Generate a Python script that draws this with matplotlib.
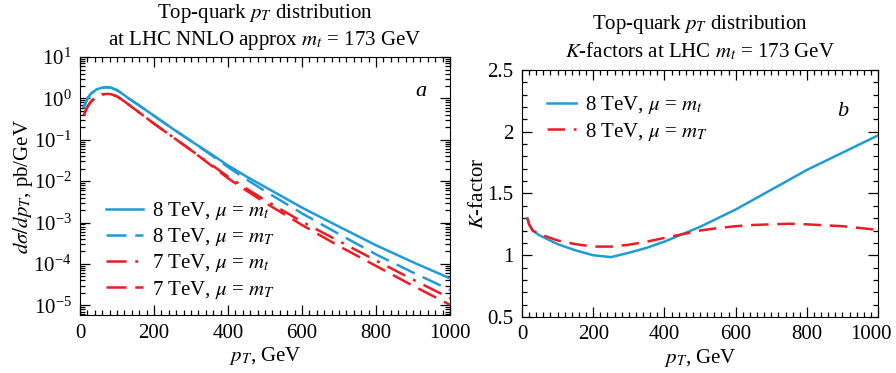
import numpy as np
import matplotlib
matplotlib.use("Agg")
import matplotlib.pyplot as plt
import matplotlib.transforms as mtransforms
from matplotlib.ticker import MultipleLocator, FixedLocator, NullFormatter, LogFormatterSciNotation

plt.rcParams['font.family'] = ['Liberation Serif', 'DejaVu Serif']
plt.rcParams['mathtext.fontset'] = 'stix'
plt.rcParams['font.size'] = 15

BLUE = '#1f9bd7'
RED = '#ec1c24'

# panel a: log10 of dsigma/dpT (pb/GeV)
pt_a = [10, 20, 30, 45, 60, 75, 85, 100, 115, 130, 145, 160, 200, 250, 300, 350,
        400, 450, 500, 600, 700, 800, 900, 1000]
log_8_mt = [-0.21, 0.0, 0.12, 0.22, 0.26, 0.27, 0.255, 0.20, 0.11, 0.01, -0.08, -0.17,
            -0.42, -0.73, -1.03, -1.32, -1.62, -1.89, -2.14, -2.64, -3.10, -3.55,
            -3.96, -4.35]
log_8_mT = [-0.21, 0.0, 0.12, 0.22, 0.26, 0.27, 0.255, 0.20, 0.11, 0.01, -0.08, -0.17,
            -0.42, -0.73, -1.03, -1.34, -1.66, -1.96, -2.24, -2.78, -3.28, -3.77,
            -4.21, -4.63]
log_7_mt = [-0.41, -0.20, -0.07, 0.04, 0.10, 0.11, 0.10, 0.05, -0.04, -0.14, -0.24,
            -0.34, -0.61, -0.93, -1.25, -1.57, -1.89, -2.18, -2.46, -2.98, -3.45,
            -3.92, -4.38, -4.83]
log_7_mT = [-0.41, -0.20, -0.07, 0.04, 0.10, 0.11, 0.10, 0.05, -0.04, -0.14, -0.24,
            -0.34, -0.61, -0.93, -1.25, -1.59, -1.93, -2.23, -2.52, -3.06, -3.57,
            -4.05, -4.53, -4.99]

# panel b: K-factors, 8 TeV
pt_b = [15, 20, 30, 50, 100, 150, 200, 250, 300, 350, 400, 450, 500, 550, 600,
        650, 700, 750, 800, 900, 1000]
k_mt = [1.30, 1.25, 1.20, 1.16, 1.09, 1.04, 1.00, 0.985, 1.02, 1.06, 1.11, 1.17,
        1.23, 1.30, 1.37, 1.45, 1.53, 1.61, 1.69, 1.83, 1.97]
k_mT = [1.30, 1.25, 1.20, 1.17, 1.12, 1.09, 1.07, 1.07, 1.085, 1.11, 1.14, 1.17,
        1.20, 1.22, 1.235, 1.245, 1.25, 1.255, 1.25, 1.235, 1.205]

fig = plt.figure(figsize=(8.96, 3.73), dpi=100)
ax1 = fig.add_axes([0.0893, 0.155, 0.413, 0.692])
ax2 = fig.add_axes([0.5826, 0.150, 0.3974, 0.6627])

lw = 1.8
ax1.plot(pt_a, 10 ** np.array(log_8_mt), color=BLUE, lw=lw, label=r'8 TeV, $\mu$ = $m_t$')
ax1.plot(pt_a, 10 ** np.array(log_8_mT), color=BLUE, lw=lw, dashes=(8, 3.5),
         label=r'8 TeV, $\mu$ = $m_T$')
ax1.plot(pt_a, 10 ** np.array(log_7_mt), color=RED, lw=lw, dashes=(8, 3.5, 1.2, 3.5),
         label=r'7 TeV, $\mu$ = $m_t$')
ax1.plot(pt_a, 10 ** np.array(log_7_mT), color=RED, lw=lw, dashes=(8, 3.5),
         label=r'7 TeV, $\mu$ = $m_T$')

ax1.set_yscale('log')
ax1.set_xlim(0, 1000)
ax1.set_ylim(10 ** -5.24, 10)
ax1.xaxis.set_minor_locator(MultipleLocator(20))
decades = 10.0 ** np.arange(-5, 2)
ax1.yaxis.set_major_locator(FixedLocator(decades))
ax1.yaxis.set_major_formatter(LogFormatterSciNotation())
minor = [m * d for d in 10.0 ** np.arange(-6, 1) for m in range(2, 10)]
minor = [v for v in minor if 10 ** -5.24 < v < 10]
ax1.yaxis.set_minor_locator(FixedLocator(minor))
ax1.yaxis.set_minor_formatter(NullFormatter())
ax1.set_xticks([0, 200, 400, 600, 800, 1000])
ax1.set_xticklabels(['0', '200', '400', '600', '800', '1000'])
ax1.set_xlabel(r'$p_T$, GeV', labelpad=2)
ax1.set_ylabel(r'$d\sigma/dp_T$, pb/GeV', labelpad=-1)
ax1.set_title('Top-quark $p_T$ distribution\nat LHC NNLO approx $m_t$ = 173 GeV',
              fontsize=15, linespacing=1.25, pad=9)
ax1.text(0.935, 0.865, 'a', transform=ax1.transAxes, fontsize=16, style='italic',
         ha='right', va='center')
ax1.legend(loc='lower left', bbox_to_anchor=(0.03, 0.0), frameon=False,
           handlelength=1.8, handletextpad=0.4, labelspacing=0.2, borderpad=0.2)

ax2.plot(pt_b, k_mt, color=BLUE, lw=lw, label=r'8 TeV, $\mu$ = $m_t$')
ax2.plot(pt_b, k_mT, color=RED, lw=lw, dashes=(7, 3.5), label=r'8 TeV, $\mu$ = $m_T$')
ax2.set_xlim(0, 1000)
ax2.set_ylim(0.5, 2.5)
ax2.xaxis.set_minor_locator(MultipleLocator(20))
ax2.yaxis.set_minor_locator(MultipleLocator(0.1))
ax2.set_xticks([0, 200, 400, 600, 800, 1000])
ax2.set_yticks([0.5, 1, 1.5, 2, 2.5])
ax2.set_yticklabels(['0.5', '1', '1.5', '2', '2.5'])
ax2.set_xlabel(r'$p_T$, GeV', labelpad=2)
ax2.set_ylabel(r'$K$-factor', labelpad=0)
ax2.set_title('Top-quark $p_T$ distribution\n$K$-factors at LHC $m_t$ = 173 GeV',
              fontsize=15, linespacing=1.25, pad=9)
ax2.text(0.915, 0.83, 'b', transform=ax2.transAxes, fontsize=16, style='italic',
         ha='right', va='center')
ax2.legend(loc='upper left', bbox_to_anchor=(0.03, 0.96), frameon=False,
           handlelength=1.4, handletextpad=0.4, labelspacing=0.2, borderpad=0.2)

for ax in (ax1, ax2):
    ax.tick_params(which='both', direction='in', top=True, right=True, labelsize=15)
    ax.tick_params(which='major', length=7, width=0.9, pad=6)
    ax.tick_params(which='minor', length=3.5, width=0.9)

# keep the last x label of the right panel inside the figure
shift = mtransforms.ScaledTranslation(-5 / 72, 0, fig.dpi_scale_trans)
last = ax2.get_xticklabels()[-1]
last.set_transform(last.get_transform() + shift)

fig.savefig('out.png', dpi=100)
